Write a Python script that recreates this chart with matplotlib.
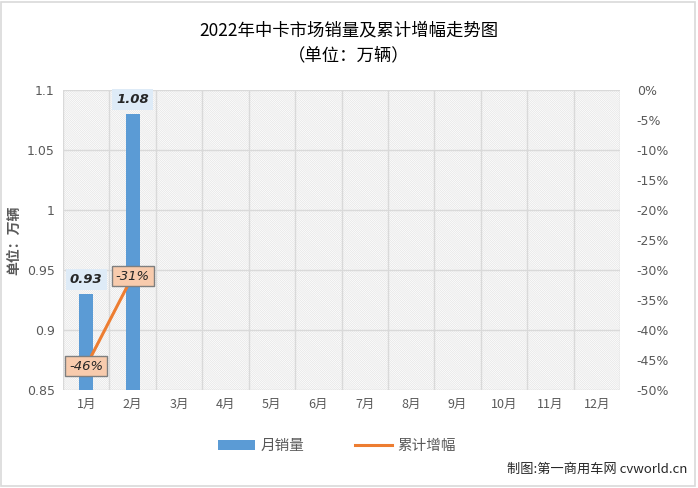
import matplotlib
matplotlib.use("Agg")
import matplotlib.pyplot as plt
from matplotlib.lines import Line2D
from matplotlib.patches import Patch, Rectangle

plt.rcParams['font.family'] = ['Noto Sans CJK SC', 'DejaVu Sans']
plt.rcParams['hatch.color'] = '#e4e4e4'
plt.rcParams['hatch.linewidth'] = 0.5

months = ['1月', '2月', '3月', '4月', '5月', '6月', '7月', '8月', '9月', '10月', '11月', '12月']
sales = [0.93, 1.08]
growth = [-46, -31]
left_ticks = [0.85, 0.9, 0.95, 1.0, 1.05, 1.1]
left_labels = ['0.85', '0.9', '0.95', '1', '1.05', '1.1']
right_ticks = [0, -5, -10, -15, -20, -25, -30, -35, -40, -45, -50]

fig = plt.figure(figsize=(6.98, 4.88), dpi=100)
fig.patches.append(Rectangle((0.002, 0.004), 0.994, 0.992, transform=fig.transFigure,
                             fill=False, edgecolor='#d9d9d9', linewidth=1.2))
ax = fig.add_axes([63/698, 1-390/488, 557/698, 300/488])
ax.set_xlim(-0.5, 11.5)
ax.set_ylim(0.85, 1.1)
ax.add_patch(Rectangle((0, 0), 1, 1, transform=ax.transAxes, facecolor='white',
                       hatch='\\' * 16, edgecolor='#e4e4e4', linewidth=0, zorder=0))
for v in left_ticks:
    ax.axhline(v, color='#d9d9d9', linewidth=1, zorder=1)
for i in range(13):
    ax.axvline(i - 0.5, color='#d9d9d9', linewidth=1, zorder=1)
for s in ax.spines.values():
    s.set_visible(False)

x = list(range(len(sales)))
ax.bar(x, [s - 0.85 for s in sales], bottom=0.85, width=0.3, color='#5b9bd5', zorder=3)
for xi, s in zip(x, sales):
    ax.text(xi, s + 0.012, f'{s:.2f}', ha='center', va='center', fontsize=9.5,
            fontweight='bold', style='italic', family='DejaVu Sans', color='#262626',
            bbox=dict(boxstyle='square,pad=0.3', facecolor='#deebf7', edgecolor='none'), zorder=5)

ax.set_xticks(range(12))
ax.set_xticklabels(months, fontsize=9, color='#595959')
ax.set_yticks(left_ticks)
ax.set_yticklabels(left_labels, fontsize=9, color='#595959', family='DejaVu Sans')
ax.tick_params(axis='both', length=0, pad=6)

ax2 = ax.twinx()
ax2.set_ylim(-50, 0)
ax2.plot(x, growth, color='#ed7d31', linewidth=2.2, zorder=4)
for xi, g in zip(x, growth):
    ax2.text(xi, g, f'{g}%', ha='center', va='center', fontsize=9.5, style='italic',
             family='DejaVu Sans', color='#262626',
             bbox=dict(boxstyle='square,pad=0.3', facecolor='#f8cbad', edgecolor='#7f7f7f', linewidth=1), zorder=6)
ax2.set_yticks(right_ticks)
ax2.set_yticklabels([f'{t}%' for t in right_ticks], fontsize=9, color='#595959', family='DejaVu Sans')
ax2.tick_params(axis='y', length=0, pad=12)
for s in ax2.spines.values():
    s.set_visible(False)

fig.text(14/698, 1-240/488, '单位：万辆', rotation=90, ha='center', va='center', fontsize=10,
         fontweight='bold', color='#595959')
fig.text(0.5, 1-30/488, '2022年中卡市场销量及累计增幅走势图', ha='center', va='center', fontsize=12.5, color='#000000')
fig.text(0.5, 1-55/488, '（单位：万辆）', ha='center', va='center', fontsize=12.5, color='#000000')

handles = [Patch(facecolor='#5b9bd5'), Line2D([0], [0], color='#ed7d31', linewidth=2.2)]
fig.legend(handles, ['月销量', '累计增幅'], loc='center', bbox_to_anchor=(0.483, 1-446/488), ncol=2,
           frameon=False, fontsize=10.5, labelcolor='#595959', columnspacing=3.5, handlelength=2.5,
           handletextpad=0.4)
fig.text(0.985, 1-469/488, '制图:第一商用车网 cvworld.cn', ha='right', va='center', fontsize=9.5, color='#262626')

fig.savefig('out.png', dpi=100)
